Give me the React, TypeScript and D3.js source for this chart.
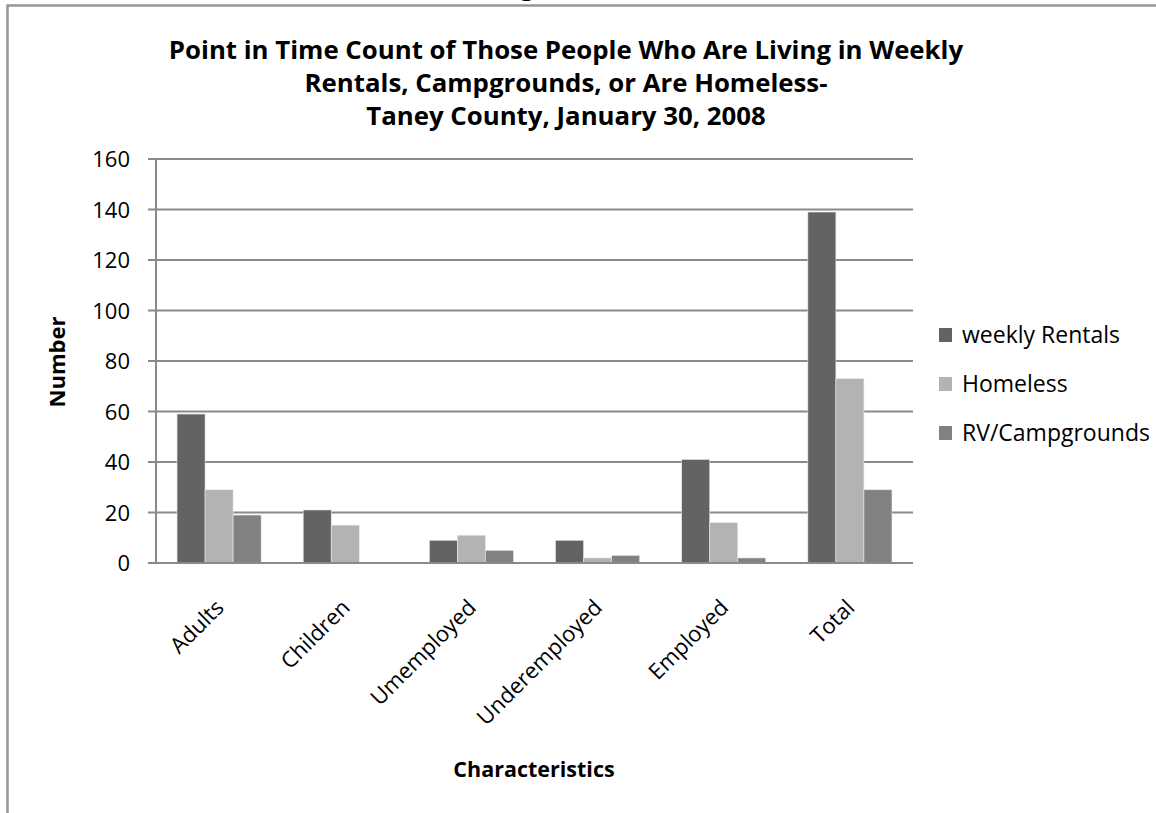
import React from "react";
import * as d3 from "d3";

const categories = ["Adults", "Children", "Umemployed", "Underemployed", "Employed", "Total"];
const seriesNames = ["weekly Rentals", "Homeless", "RV/Campgrounds"];
const weeklyRentals = [59, 21, 9, 9, 41, 139];
const homeless = [29, 15, 11, 2, 16, 73];
const rvCampgrounds = [19, 0, 5, 3, 2, 29];
const yTicks = [0, 20, 40, 60, 80, 100, 120, 140, 160];
const colors = ["#636363", "#b3b3b3", "#818181"];
const titleLines = [
  "Point in Time Count of Those People Who Are Living in Weekly",
  "Rentals, Campgrounds, or Are Homeless-",
  "Taney County, January 30, 2008",
];

const W = 1156;
const H = 813;
const left = 156;
const right = 913;
const top = 159;
const bottom = 563;
const FONT = "'Open Sans', 'Noto Sans', sans-serif";

export default function App() {
  const series = [weeklyRentals, homeless, rvCampgrounds];
  const x = d3.scaleBand<string>().domain(categories).range([left, right]).paddingInner(0).paddingOuter(0);
  const inner = d3.scaleBand<number>().domain([0, 1, 2]).range([0, x.bandwidth()]).paddingOuter(0.75).paddingInner(0);
  const y = d3.scaleLinear().domain([0, 160]).range([bottom, top]);

  return (
    <svg width={W} height={H} style={{ position: "absolute", left: 0, top: 0, display: "block" }}>
      <rect x={0} y={0} width={W} height={H} fill="#fff" />
      <path d={`M7.5,${H} V5.5 H${W}`} fill="none" stroke="#969696" strokeWidth={2.5} />
      <text x={527} y={-5} textAnchor="middle" fontFamily={FONT} fontWeight="bold" fontSize={25}>g</text>
      {titleLines.map((t, i) => (
        <text key={i} x={566} y={59 + i * 33} textAnchor="middle" fontFamily={FONT} fontWeight="bold" fontSize={25.8} fill="#000">
          {t}
        </text>
      ))}
      {yTicks.map((t) => (
        <g key={t}>
          <line x1={left - 8} x2={right} y1={y(t)} y2={y(t)} stroke="#8a8a8a" strokeWidth={2} />
          <text x={left - 26} y={y(t) + 8} textAnchor="end" fontFamily={FONT} fontSize={22} fill="#000">
            {t}
          </text>
        </g>
      ))}
      <line x1={left} x2={left} y1={top} y2={bottom} stroke="#8a8a8a" strokeWidth={2} />
      {categories.map((c, ci) => (
        <g key={c}>
          {series.map((s, si) => (
            <rect
              key={si}
              x={(x(c) as number) + (inner(si) as number)}
              y={y(s[ci])}
              width={inner.bandwidth()}
              height={bottom - y(s[ci])}
              fill={colors[si]}
              stroke={s[ci] > 0 ? "#e8e8e8" : "none"}
              strokeWidth={0.6}
            />
          ))}
        </g>
      ))}
      <line x1={left} x2={right} y1={bottom} y2={bottom} stroke="#8a8a8a" strokeWidth={2} />
      {categories.map((c) => {
        const cx = (x(c) as number) + x.bandwidth() / 2 + 6;
        const cy = bottom + 46;
        return (
          <text key={c} x={cx} y={cy} transform={`rotate(-45 ${cx} ${cy})`} textAnchor="end" fontFamily={FONT} fontSize={22} fill="#000">
            {c}
          </text>
        );
      })}
      <text x={0} y={0} transform={`translate(65 362) rotate(-90)`} textAnchor="middle" fontFamily={FONT} fontWeight="bold" fontSize={22}>
        Number
      </text>
      <text x={534} y={777} textAnchor="middle" fontFamily={FONT} fontWeight="bold" fontSize={21.5}>
        Characteristics
      </text>
      {seriesNames.map((n, i) => (
        <g key={n}>
          <rect x={939} y={328 + i * 49} width={13} height={14} fill={colors[i]} />
          <text x={962} y={343 + i * 49} fontFamily={FONT} fontSize={23} fill="#000">
            {n}
          </text>
        </g>
      ))}
    </svg>
  );
}
